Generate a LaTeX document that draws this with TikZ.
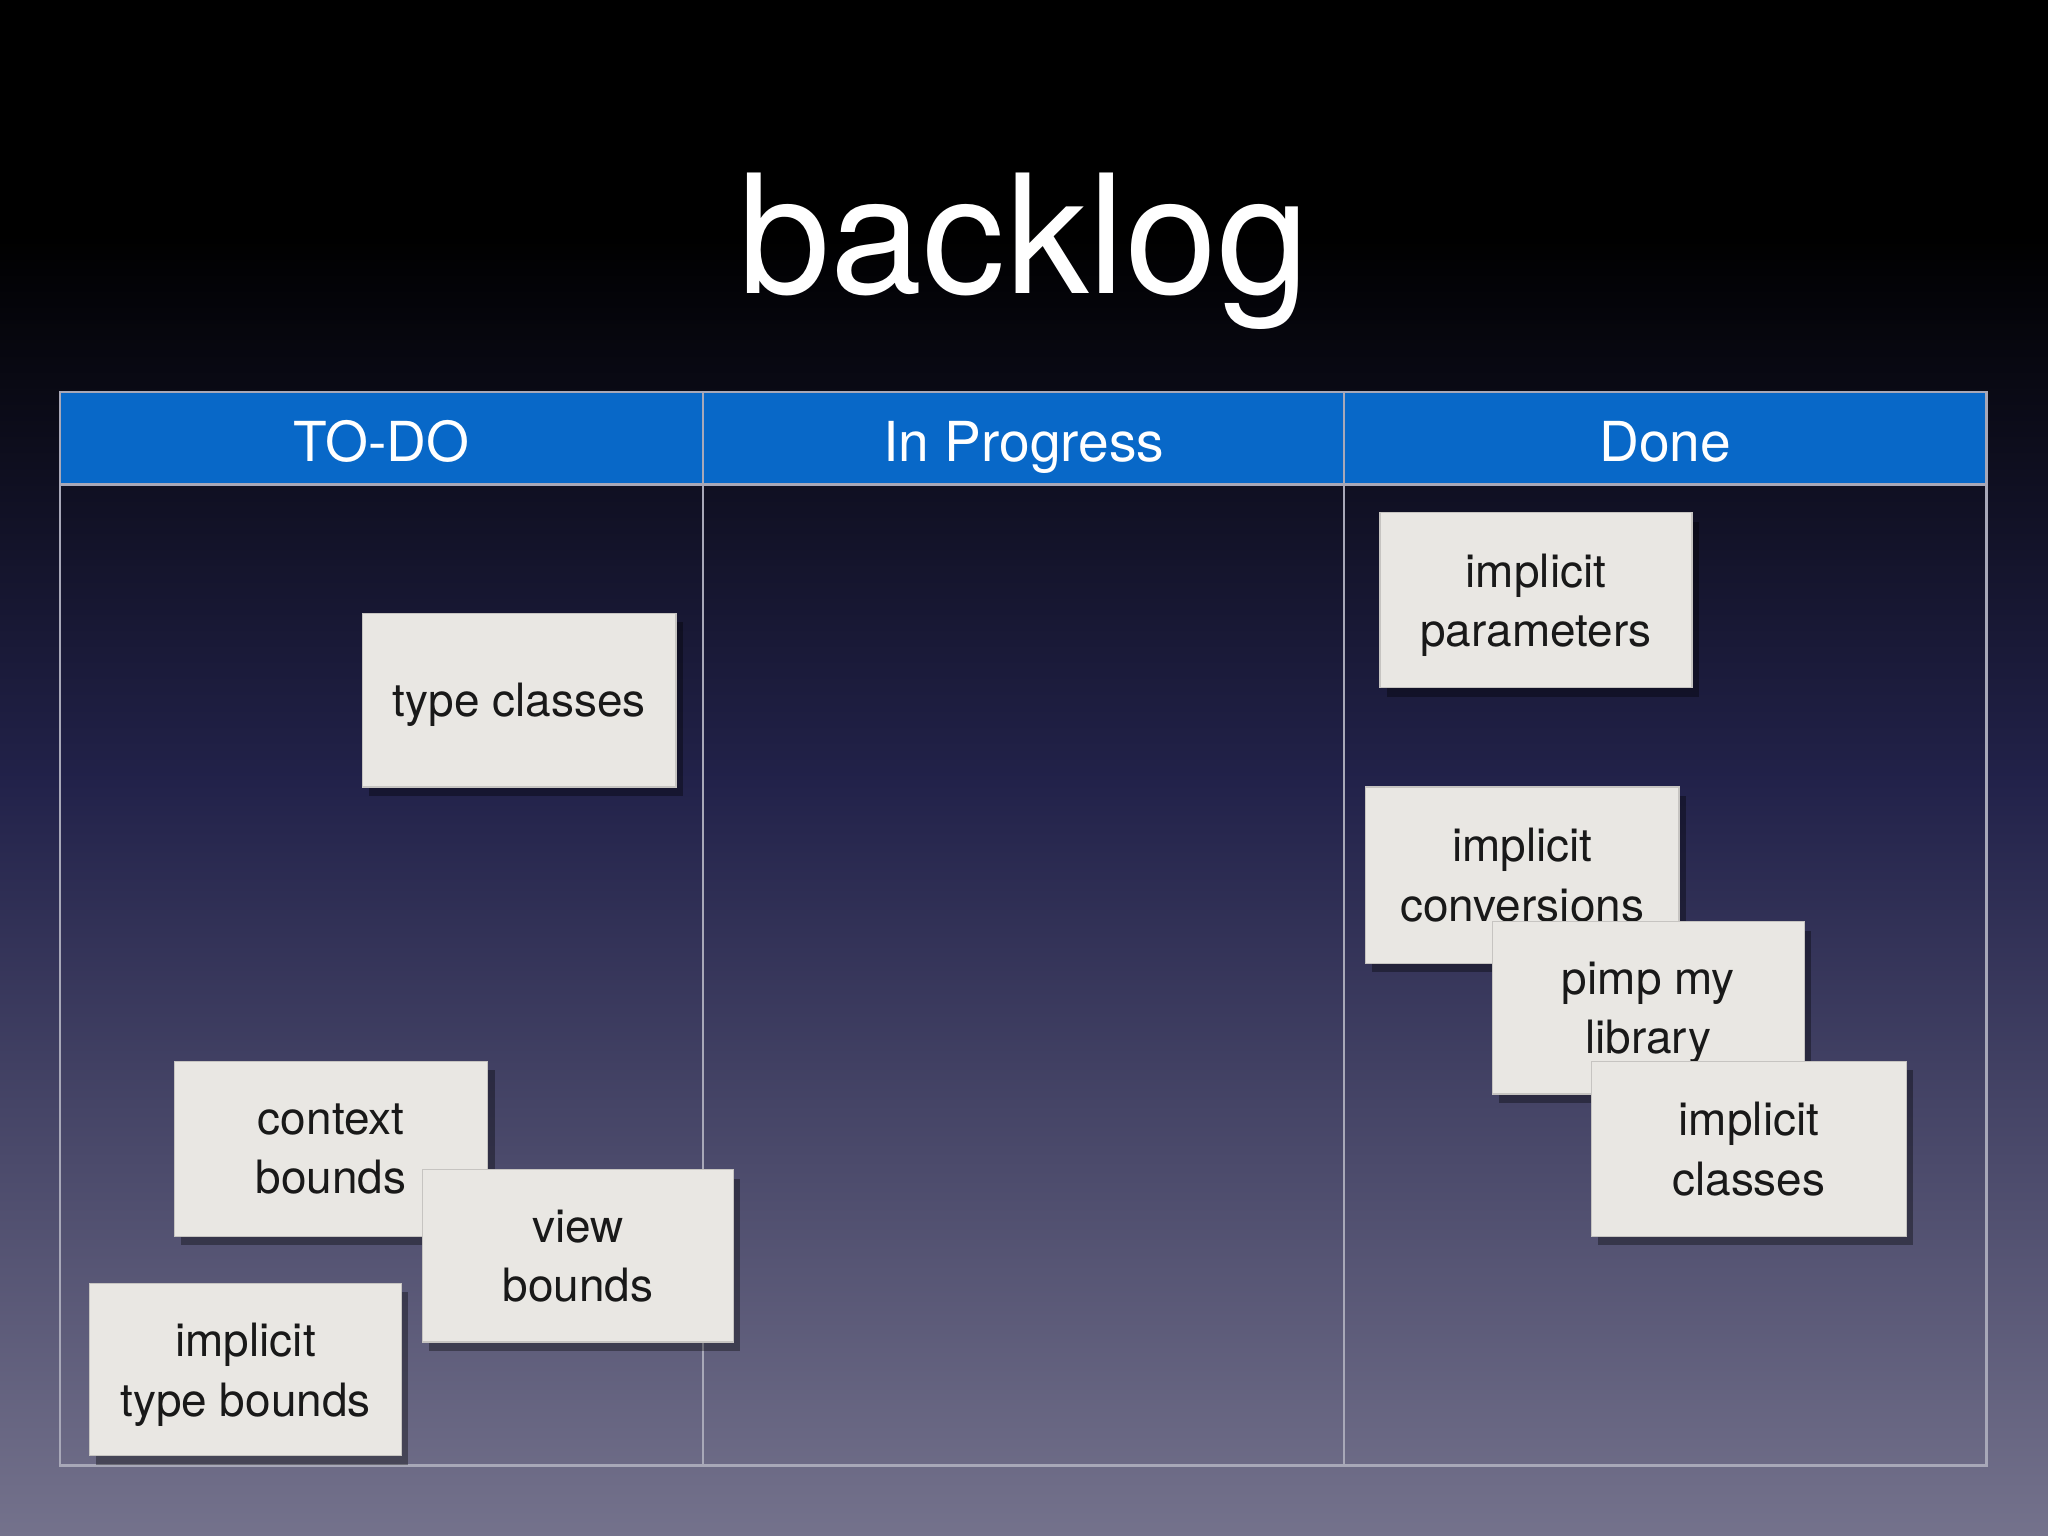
\documentclass[tikz,border=0pt]{standalone}
\usepackage{fontspec}
\setmainfont{TeX Gyre Heros}
\usetikzlibrary{shadows}
\definecolor{hdr}{HTML}{0868C8}
\definecolor{cardc}{HTML}{E9E7E3}
\definecolor{gridc}{HTML}{A8A8B8}
\definecolor{bgmid}{HTML}{22224A}
\definecolor{bgbot}{HTML}{74728C}
\begin{document}
\begin{tikzpicture}[x=0.01cm,y=-0.01cm,
  card/.style={fill=cardc,draw=cardc!85!black,line width=0.3pt,drop shadow={shadow xshift=1.5pt,shadow yshift=-2pt,opacity=0.35,fill=black},align=center,font=\fontsize{10}{13}\selectfont,text=black!90,text depth=0pt},
  hdrtxt/.style={text=white,font=\fontsize{12}{14}\selectfont,anchor=base}]
\useasboundingbox (0,0) rectangle (1568,1176);
\fill[black] (0,0) rectangle (1568,181);
\shade[top color=black,bottom color=bgmid] (0,180) rectangle (1568,600);
\shade[top color=bgmid,bottom color=bgbot] (0,599) rectangle (1568,1176);
\node[text=white,font=\fontsize{36}{40}\selectfont,anchor=base] (title) at (784,225) {backlog};
\fill[hdr] (46,300) rectangle (1521,371);
\draw[gridc,line width=0.5pt] (46,300) rectangle (1521,1122);
\draw[gridc,line width=0.5pt] (46,371) -- (1521,371);
\draw[gridc,line width=0.5pt] (538,300) -- (538,1122);
\draw[gridc,line width=0.5pt] (1029,300) -- (1029,1122);
\node[hdrtxt] (h1) at (292,353) {TO-DO};
\node[hdrtxt] (h2) at (784,353) {In Progress};
\node[hdrtxt] (h3) at (1275,353) {Done};
\newcommand{\mycard}[6]{\node[card,minimum width=#3*0.01cm-0.3pt,minimum height=#4*0.01cm-0.3pt,anchor=north west] (#5) at (#1,#2) {#6};}
\mycard{277}{469}{241}{134}{tc}{type classes}
\mycard{1056}{392}{240}{135}{ip}{implicit\\parameters}
\mycard{133}{812}{241}{135}{cb}{context\\bounds}
\mycard{323}{895}{239}{133}{vb}{view\\bounds}
\mycard{68}{982}{240}{133}{itb}{implicit\\type bounds}
\mycard{1045}{602}{241}{136}{ic}{implicit\\conversions}
\mycard{1142}{705}{240}{133}{pml}{pimp my\\library}
\mycard{1218}{812}{242}{135}{icl}{implicit\\classes}
\end{tikzpicture}
\end{document}
